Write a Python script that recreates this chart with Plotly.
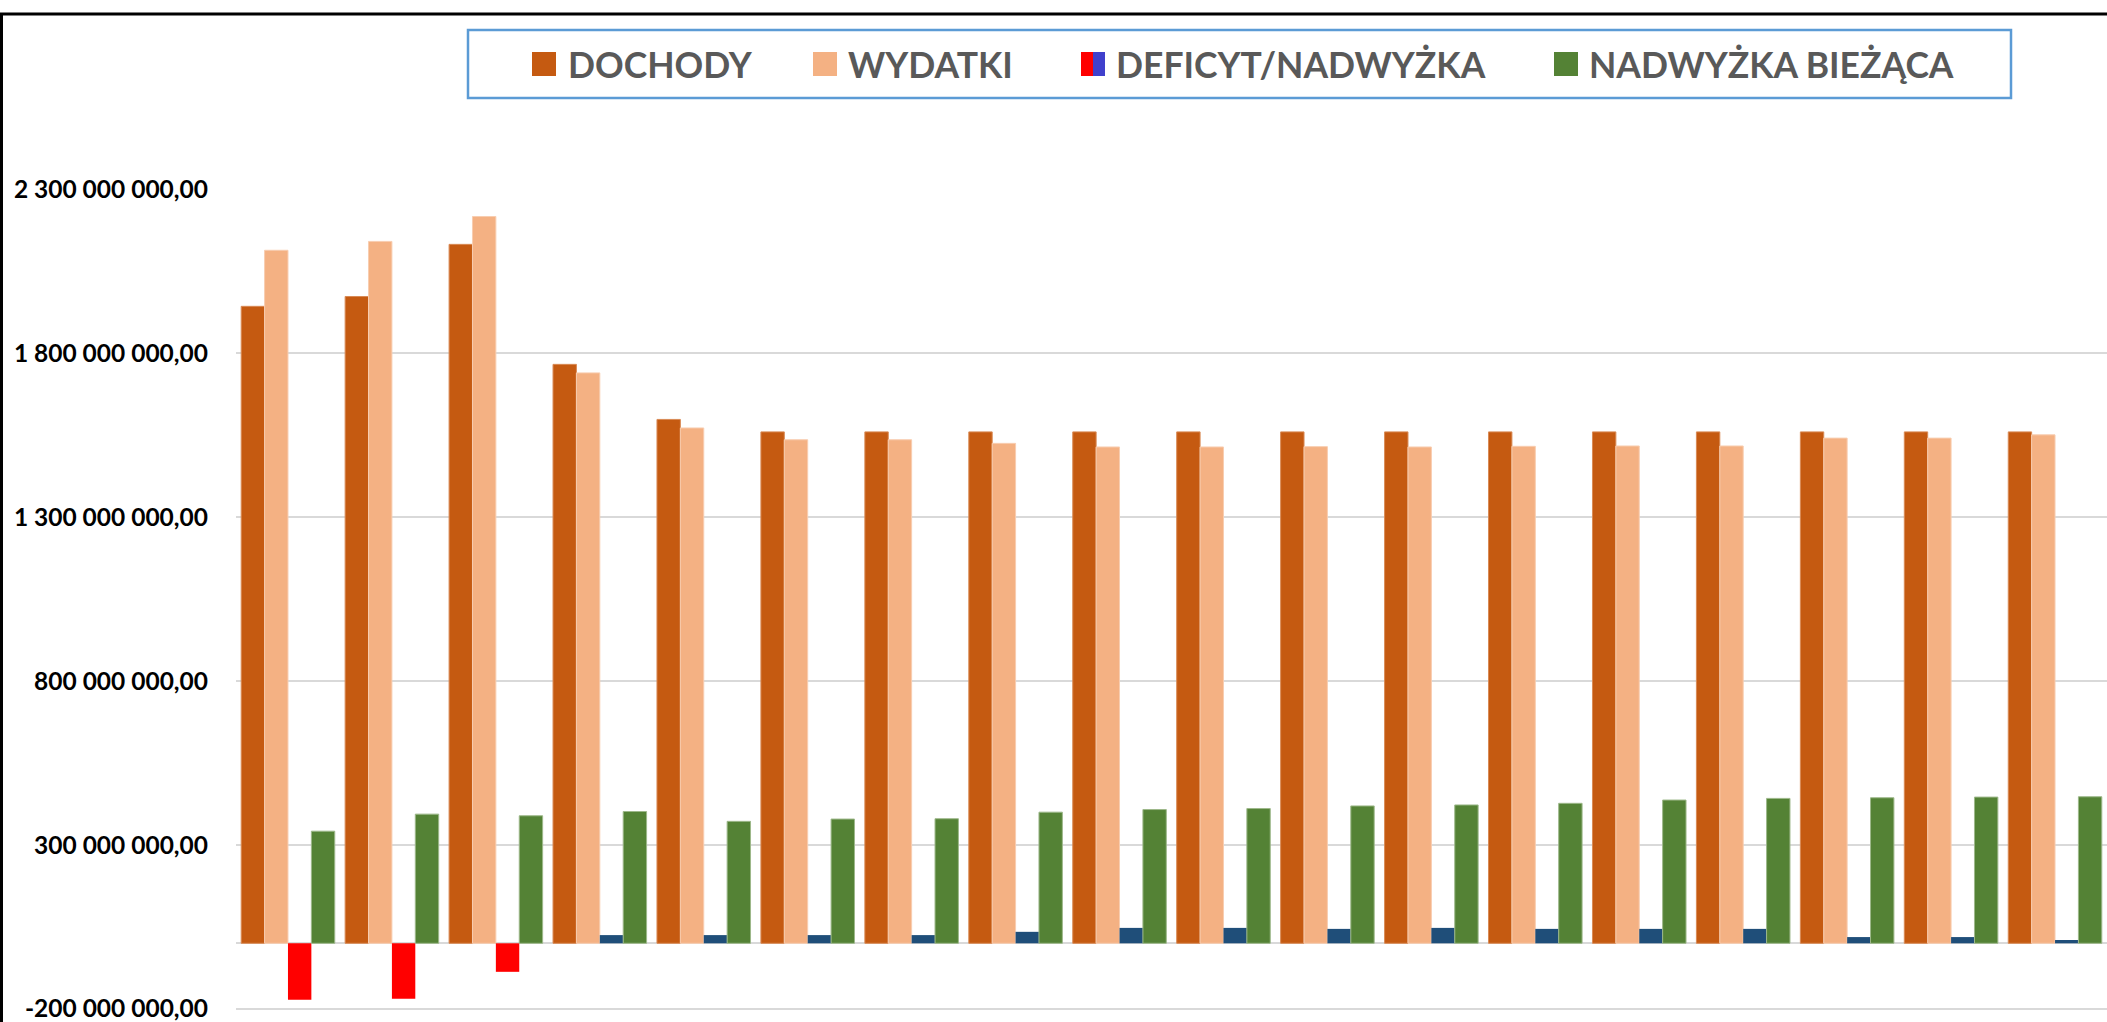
import plotly.graph_objects as go

# values in millions PLN
years = [str(y) for y in range(2021, 2039)]
dochody = [1943, 1973, 2132, 1766, 1598, 1560, 1560, 1560, 1560,
           1560, 1560, 1560, 1560, 1560, 1560, 1560, 1560, 1560]
wydatki = [2114, 2141, 2217, 1740, 1572, 1536, 1536, 1525, 1514,
           1514, 1515, 1514, 1516, 1517, 1517, 1541, 1541, 1551]
deficyt = [-172, -169, -87, 25, 25, 25, 25, 35, 47,
           47, 44, 47, 44, 44, 44, 19, 19, 10]
nadwyzka_biezaca = [342, 394, 389, 402, 372, 379, 380, 400, 408,
                    411, 419, 422, 427, 437, 442, 444, 446, 447]
y_ticks = [-200, 300, 800, 1300, 1800, 2300]

series_names = ["DOCHODY", "WYDATKI", "DEFICYT/NADWYŻKA", "NADWYŻKA BIEŻĄCA"]

W, H = 2107, 1022
C_DOCH = "#C55A11"
C_WYD = "#F4B183"
C_GREEN = "#548235"
C_NEG = "#FF0000"
C_POS = "#1F4E79"


def mln(vals):
    return [v * 1e6 for v in vals]


def pl_fmt(v):
    # Polish number format: space thousands separator, comma decimals
    s = f"{abs(v) * 1e6:,.2f}".replace(",", " ").replace(".", ",")
    return ("-" if v < 0 else "") + s


def px2x(px):
    return px / W


def py2y(py):
    return 1 - py / H


fig = go.Figure()
fig.add_trace(go.Bar(x=years, y=mln(dochody), name=series_names[0],
                     marker=dict(color=C_DOCH, line=dict(color="#D98A55", width=1))))
fig.add_trace(go.Bar(x=years, y=mln(wydatki), name=series_names[1],
                     marker=dict(color=C_WYD, line=dict(color="#F8CDB0", width=1))))
fig.add_trace(go.Bar(x=years, y=mln(deficyt), name=series_names[2],
                     marker=dict(color=[C_NEG if v < 0 else C_POS for v in deficyt],
                                 line=dict(width=0))))
fig.add_trace(go.Bar(x=years, y=mln(nadwyzka_biezaca), name=series_names[3],
                     marker=dict(color=C_GREEN, line=dict(color="#9DB88A", width=1))))

fig.update_traces(showlegend=False)

top_px = 189.3
zero_px = 943.3
scale = (zero_px - top_px) / 2300.0
y_min = (zero_px - H) / scale

fig.update_layout(
    width=W,
    height=H,
    margin=dict(l=0, r=0, t=0, b=0),
    paper_bgcolor="white",
    plot_bgcolor="white",
    barmode="group",
    bargap=0.1,
    bargroupgap=0,
    font=dict(family="Lato", color="black"),
    xaxis=dict(domain=[px2x(236), 1], showticklabels=False, showgrid=False,
               showline=False, zeroline=False, automargin=False),
    yaxis=dict(domain=[0, py2y(top_px)], range=[y_min * 1e6, 2300e6],
               tickvals=mln(y_ticks), ticktext=[pl_fmt(v) for v in y_ticks],
               tickfont=dict(family="Lato", size=24.5, color="black", weight="bold"),
               ticklabelstandoff=27, ticklabeloverflow="allow",
               showgrid=True, gridcolor="#D9D9D9", gridwidth=1.5,
               zeroline=True, zerolinecolor="#D9D9D9", zerolinewidth=1.5,
               showline=False, automargin=False),
)

shapes = []
# outer chart frame (left and top edges visible)
shapes.append(dict(type="rect", xref="paper", yref="paper",
                   x0=px2x(1.5), x1=px2x(W + 10), y0=py2y(H + 10), y1=py2y(14),
                   line=dict(color="black", width=3), fillcolor="rgba(0,0,0,0)"))
# legend box
shapes.append(dict(type="rect", xref="paper", yref="paper",
                   x0=px2x(468), x1=px2x(2011), y0=py2y(98), y1=py2y(30),
                   line=dict(color="#5B9BD5", width=2.5), fillcolor="white"))

marker_x = [532, 813, 1081, 1554]
text_x = [566, 846, 1114, 1587]
marker_cols = [[C_DOCH], [C_WYD], [C_NEG, "#4040CC"], [C_GREEN]]
annotations = []
for name, mx, tx, cols in zip(series_names, marker_x, text_x, marker_cols):
    w = 24 / len(cols)
    for i, c in enumerate(cols):
        shapes.append(dict(type="rect", xref="paper", yref="paper",
                           x0=px2x(mx + i * w), x1=px2x(mx + (i + 1) * w),
                           y0=py2y(76), y1=py2y(52),
                           line=dict(width=0), fillcolor=c))
    annotations.append(dict(text=name, xref="paper", yref="paper",
                            x=px2x(tx), y=py2y(64), xanchor="left", yanchor="middle",
                            showarrow=False,
                            font=dict(family="Lato", size=35.5, color="#595959",
                                      weight="bold")))

fig.update_layout(shapes=shapes, annotations=annotations)

# drop the default page margin so the figure fills the window exactly
fig.write_html("out.html",
               config={"displayModeBar": False},
               post_script="document.body.style.margin='0';"
                           "document.body.style.overflow='hidden';")
